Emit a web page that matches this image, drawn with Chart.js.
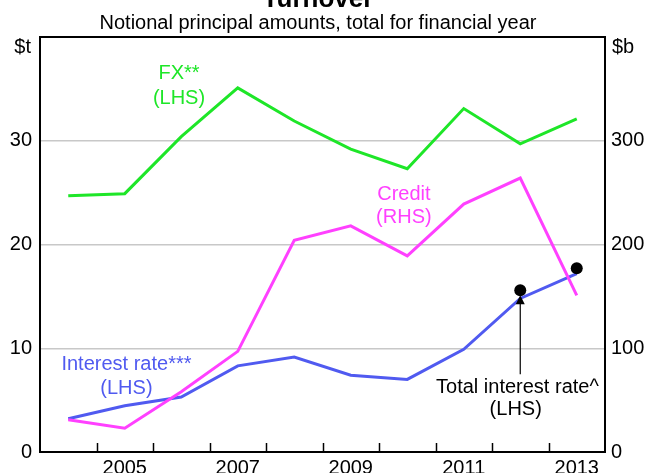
<!DOCTYPE html>
<html>
<head>
<meta charset="utf-8">
<script src="https://cdn.jsdelivr.net/npm/chart.js@4.4.1/dist/chart.umd.min.js"></script>
<style>
  body { margin: 0; background: #fff; }
  canvas { display: block; }
</style>
</head>
<body>
<canvas id="turnoverChart" width="647" height="473"></canvas>
<script>
// Financial years (plotted mid-year)
var years = [2004, 2005, 2006, 2007, 2008, 2009, 2010, 2011, 2012, 2013];
var fxValues = [24.7, 24.9, 30.4, 35.1, 31.9, 29.2, 27.3, 33.1, 29.7, 32.1];      // $t, LHS
var interestValues = [3.2, 4.45, 5.3, 8.3, 9.15, 7.4, 7.0, 9.9, 14.8, 17.2];     // $t, LHS
var creditValues = [31, 23, 58, 97, 204, 218, 189, 239, 264, 151];                // $b, RHS
var totalYears = [2012, 2013];
var totalInterestValues = [15.6, 17.7];                                           // $t, LHS
var yearLabels = [2005, 2007, 2009, 2011, 2013];
var leftTicks = [0, 10, 20, 30];
var rightTicks = [0, 100, 200, 300];

var GREEN = 'rgb(30, 230, 40)';
var MAGENTA = 'rgb(255, 64, 255)';
var BLUE = 'rgb(80, 90, 240)';
var FONT = '"Liberation Sans", Arial, sans-serif';

function pts(values, yrs) {
    return values.map(function(v, i) { return { x: yrs[i] + 0.5, y: v }; });
}

// text annotations, placed in data units (x = year, y = LHS value)
var notes = [
    { color: GREEN, lines: [['FX**', 2006.46, 36.45], ['(LHS)', 2006.46, 34.05]] },
    { color: MAGENTA, lines: [['Credit', 2010.44, 24.8], ['(RHS)', 2010.44, 22.6]] },
    { color: BLUE, lines: [['Interest rate***', 2005.53, 8.46], ['(LHS)', 2005.53, 6.15]] },
    { color: '#000', lines: [['Total interest rate^', 2012.45, 6.25], ['(LHS)', 2012.42, 4.13]] }
];

var overlay = {
    id: 'overlay',
    afterDatasetsDraw: function(chart) {
        var ctx = chart.ctx, xs = chart.scales.x, ys = chart.scales.y, a = chart.chartArea;
        ctx.save();

        // year tick marks pointing into the plot
        ctx.strokeStyle = '#000';
        ctx.lineWidth = 1.5;
        years.slice(1).forEach(function(yr) {
            var px = Math.round(xs.getPixelForValue(yr)) + 0.5;
            ctx.beginPath();
            ctx.moveTo(px, a.bottom);
            ctx.lineTo(px, a.bottom - 9);
            ctx.stroke();
        });

        // arrow to total interest rate
        var ax = xs.getPixelForValue(2012.5);
        var yTip = ys.getPixelForValue(15.1), yTail = ys.getPixelForValue(7.5);
        ctx.lineWidth = 1.2;
        ctx.beginPath();
        ctx.moveTo(ax, yTail);
        ctx.lineTo(ax, yTip + 6);
        ctx.stroke();
        ctx.fillStyle = '#000';
        ctx.beginPath();
        ctx.moveTo(ax, yTip);
        ctx.lineTo(ax - 4.5, yTip + 9);
        ctx.lineTo(ax + 4.5, yTip + 9);
        ctx.closePath();
        ctx.fill();

        // series labels
        ctx.font = '20px ' + FONT;
        ctx.textAlign = 'center';
        ctx.textBaseline = 'middle';
        notes.forEach(function(n) {
            ctx.fillStyle = n.color;
            n.lines.forEach(function(l) {
                ctx.fillText(l[0], xs.getPixelForValue(l[1]), ys.getPixelForValue(l[2]));
            });
        });

        // frame
        ctx.strokeStyle = '#000';
        ctx.lineWidth = 2;
        ctx.strokeRect(a.left, a.top, a.right - a.left, a.bottom - a.top);

        // titles and units
        ctx.fillStyle = '#000';
        ctx.textBaseline = 'alphabetic';
        ctx.font = 'bold 26px ' + FONT;
        ctx.fillText('Turnover', 318, 7);
        ctx.font = '20px ' + FONT;
        ctx.fillText('Notional principal amounts, total for financial year', 318, 29);
        ctx.textBaseline = 'middle';
        ctx.textAlign = 'right';
        ctx.fillText('$t', 31, 47);
        ctx.textAlign = 'left';
        ctx.fillText('$b', 612, 47);
        ctx.restore();
    }
};

var ctx1 = document.getElementById('turnoverChart').getContext('2d');
new Chart(ctx1, {
    type: 'line',
    data: {
        datasets: [{
            label: 'Total interest rate',
            data: pts(totalInterestValues, totalYears),
            showLine: false,
            pointRadius: 6,
            pointBackgroundColor: '#000',
            pointBorderWidth: 0,
            yAxisID: 'y'
        }, {
            label: 'Credit',
            data: pts(creditValues, years),
            borderColor: MAGENTA,
            borderWidth: 3,
            pointRadius: 0,
            tension: 0,
            yAxisID: 'y1'
        }, {
            label: 'Interest rate',
            data: pts(interestValues, years),
            borderColor: BLUE,
            borderWidth: 3,
            pointRadius: 0,
            tension: 0,
            yAxisID: 'y'
        }, {
            label: 'FX',
            data: pts(fxValues, years),
            borderColor: GREEN,
            borderWidth: 3,
            pointRadius: 0,
            tension: 0,
            yAxisID: 'y'
        }]
    },
    options: {
        responsive: false,
        animation: false,
        layout: { padding: { top: 37, left: 0, right: 0, bottom: 0 } },
        plugins: { legend: { display: false }, tooltip: { enabled: false } },
        scales: {
            x: {
                type: 'linear',
                min: 2004,
                max: 2014,
                grid: { display: false, drawTicks: false },
                border: { display: false },
                afterBuildTicks: function(scale) {
                    scale.ticks = yearLabels.map(function(yr) { return { value: yr + 0.5 }; });
                },
                afterFit: function(scale) { scale.height = 21; },
                ticks: {
                    autoSkip: false,
                    maxRotation: 0,
                    padding: 4,
                    color: '#000',
                    font: { family: FONT, size: 20 },
                    callback: function(v) { return String(Math.floor(v)); }
                }
            },
            y: {
                position: 'left',
                min: 0,
                max: 40,
                afterBuildTicks: function(scale) {
                    scale.ticks = leftTicks.concat([40]).map(function(v) { return { value: v }; });
                },
                afterFit: function(scale) { scale.width = 40; },
                grid: {
                    drawTicks: false,
                    lineWidth: 1.5,
                    color: function(c) {
                        return (c.tick && (c.tick.value === 0 || c.tick.value === 40)) ? 'rgba(0,0,0,0)' : '#c8c8c8';
                    }
                },
                border: { display: false },
                ticks: {
                    padding: 8,
                    color: '#000',
                    font: { family: FONT, size: 20 },
                    callback: function(v) { return leftTicks.indexOf(v) >= 0 ? String(v) : ''; }
                }
            },
            y1: {
                position: 'right',
                min: 0,
                max: 400,
                afterBuildTicks: function(scale) {
                    scale.ticks = rightTicks.concat([400]).map(function(v) { return { value: v }; });
                },
                afterFit: function(scale) { scale.width = 42; },
                grid: { display: false, drawTicks: false },
                border: { display: false },
                ticks: {
                    padding: 6,
                    color: '#000',
                    font: { family: FONT, size: 20 },
                    callback: function(v) { return rightTicks.indexOf(v) >= 0 ? String(v) : ''; }
                }
            }
        }
    },
    plugins: [overlay]
});
</script>
</body>
</html>
